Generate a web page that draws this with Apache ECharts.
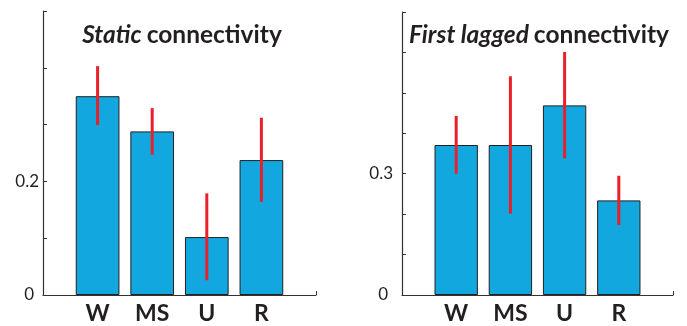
<!DOCTYPE html>
<html><head><meta charset="utf-8">
<script src="https://cdn.jsdelivr.net/npm/echarts@6/dist/echarts.min.js"></script>
<style>html,body{margin:0;padding:0;background:#fff}#c{width:687px;height:326px}</style>
</head><body><div id="c"></div>
<script>
const categories = ['', 'W', 'MS', 'U', 'R', ''];
const staticMean = [null, 0.350, 0.288, 0.102, 0.2375, null];
const staticLow  = [null, 0.299, 0.247, 0.026, 0.164, null];
const staticHigh = [null, 0.403, 0.329, 0.179, 0.312, null];
const laggedMean = [null, 0.371, 0.371, 0.469, 0.234, null];
const laggedLow  = [null, 0.300, 0.201, 0.338, 0.173, null];
const laggedHigh = [null, 0.443, 0.541, 0.601, 0.295, null];
const staticTicks = {0: '0', 0.2: '0.2'};
const laggedTicks = {0: '0', 0.3: '0.3'};

const FONT = 'Lato';
const chart = echarts.init(document.getElementById('c'), null, {renderer: 'canvas'});

function errData(low, high) {
  const out = [];
  for (let i = 0; i < low.length; i++) if (low[i] != null) out.push([i, low[i], high[i]]);
  return out;
}
function errSeries(idx, low, high) {
  return {
    type: 'custom', xAxisIndex: idx, yAxisIndex: idx, z: 5,
    data: errData(low, high),
    renderItem: function (params, api) {
      const p1 = api.coord([api.value(0), api.value(1)]);
      const p2 = api.coord([api.value(0), api.value(2)]);
      return {type: 'line', shape: {x1: p1[0], y1: p1[1], x2: p2[0], y2: p2[1]},
        style: {stroke: '#e8202a', lineWidth: 3}};
    }
  };
}
function xAxis(idx) {
  return {
    type: 'category', gridIndex: idx, data: categories, boundaryGap: false,
    axisLine: {lineStyle: {color: '#333', width: 1.2}},
    axisTick: {inside: true, length: 4, interval: function (i) { return i === categories.length - 1; },
      lineStyle: {color: '#333'}},
    axisLabel: {interval: 0, margin: 7, fontFamily: FONT, fontWeight: 'bold', fontSize: 23, color: '#231f20'},
    splitLine: {show: false}
  };
}
function yAxis(idx, max, ticks, margin) {
  return {
    type: 'value', gridIndex: idx, min: 0, max: max, interval: 0.1,
    axisLine: {show: true, lineStyle: {color: '#333', width: 1.2}},
    axisTick: {show: true, inside: true, length: 4, lineStyle: {color: '#333'}},
    splitLine: {show: false},
    axisLabel: {margin: margin, fontFamily: FONT, fontSize: 17, color: '#231f20',
      formatter: function (v) {
        const k = Math.round(v * 10) / 10;
        if (ticks[k] === undefined) return '';
        return k === 0 ? '{z|' + ticks[k] + '}' : ticks[k];
      },
      rich: {z: {fontFamily: FONT, fontSize: 17, color: '#231f20', padding: [0, 5, 0, 0]}}
    }
  };
}
function barSeries(idx, data) {
  return {type: 'bar', xAxisIndex: idx, yAxisIndex: idx, data: data, barWidth: '80%',
    itemStyle: {color: '#12a8df', borderColor: '#231f20', borderWidth: 1}};
}
const titleRich = {
  i: {fontFamily: FONT, fontStyle: 'italic', fontWeight: 'bold', fontSize: 24.5, color: '#231f20'},
  b: {fontFamily: FONT, fontWeight: 'bold', fontSize: 24.5, color: '#231f20'}
};
chart.setOption({
  animation: false,
  title: [
    {text: '{i|Static} {b|connectivity}', left: 177, top: 18, textAlign: 'center', textStyle: {rich: titleRich}},
    {text: '{i|First lagged} {b|connectivity}', left: 534, top: 18, textAlign: 'center', textStyle: {rich: titleRich}}
  ],
  grid: [
    {left: 43, right: 371, top: 11, bottom: 31, containLabel: false},
    {left: 402, right: 14, top: 12, bottom: 31, containLabel: false}
  ],
  xAxis: [xAxis(0), xAxis(1)],
  yAxis: [yAxis(0, 0.5, staticTicks, 4), yAxis(1, 0.7, laggedTicks, 9)],
  series: [
    barSeries(0, staticMean), errSeries(0, staticLow, staticHigh),
    barSeries(1, laggedMean), errSeries(1, laggedLow, laggedHigh)
  ]
});
</script></body></html>
